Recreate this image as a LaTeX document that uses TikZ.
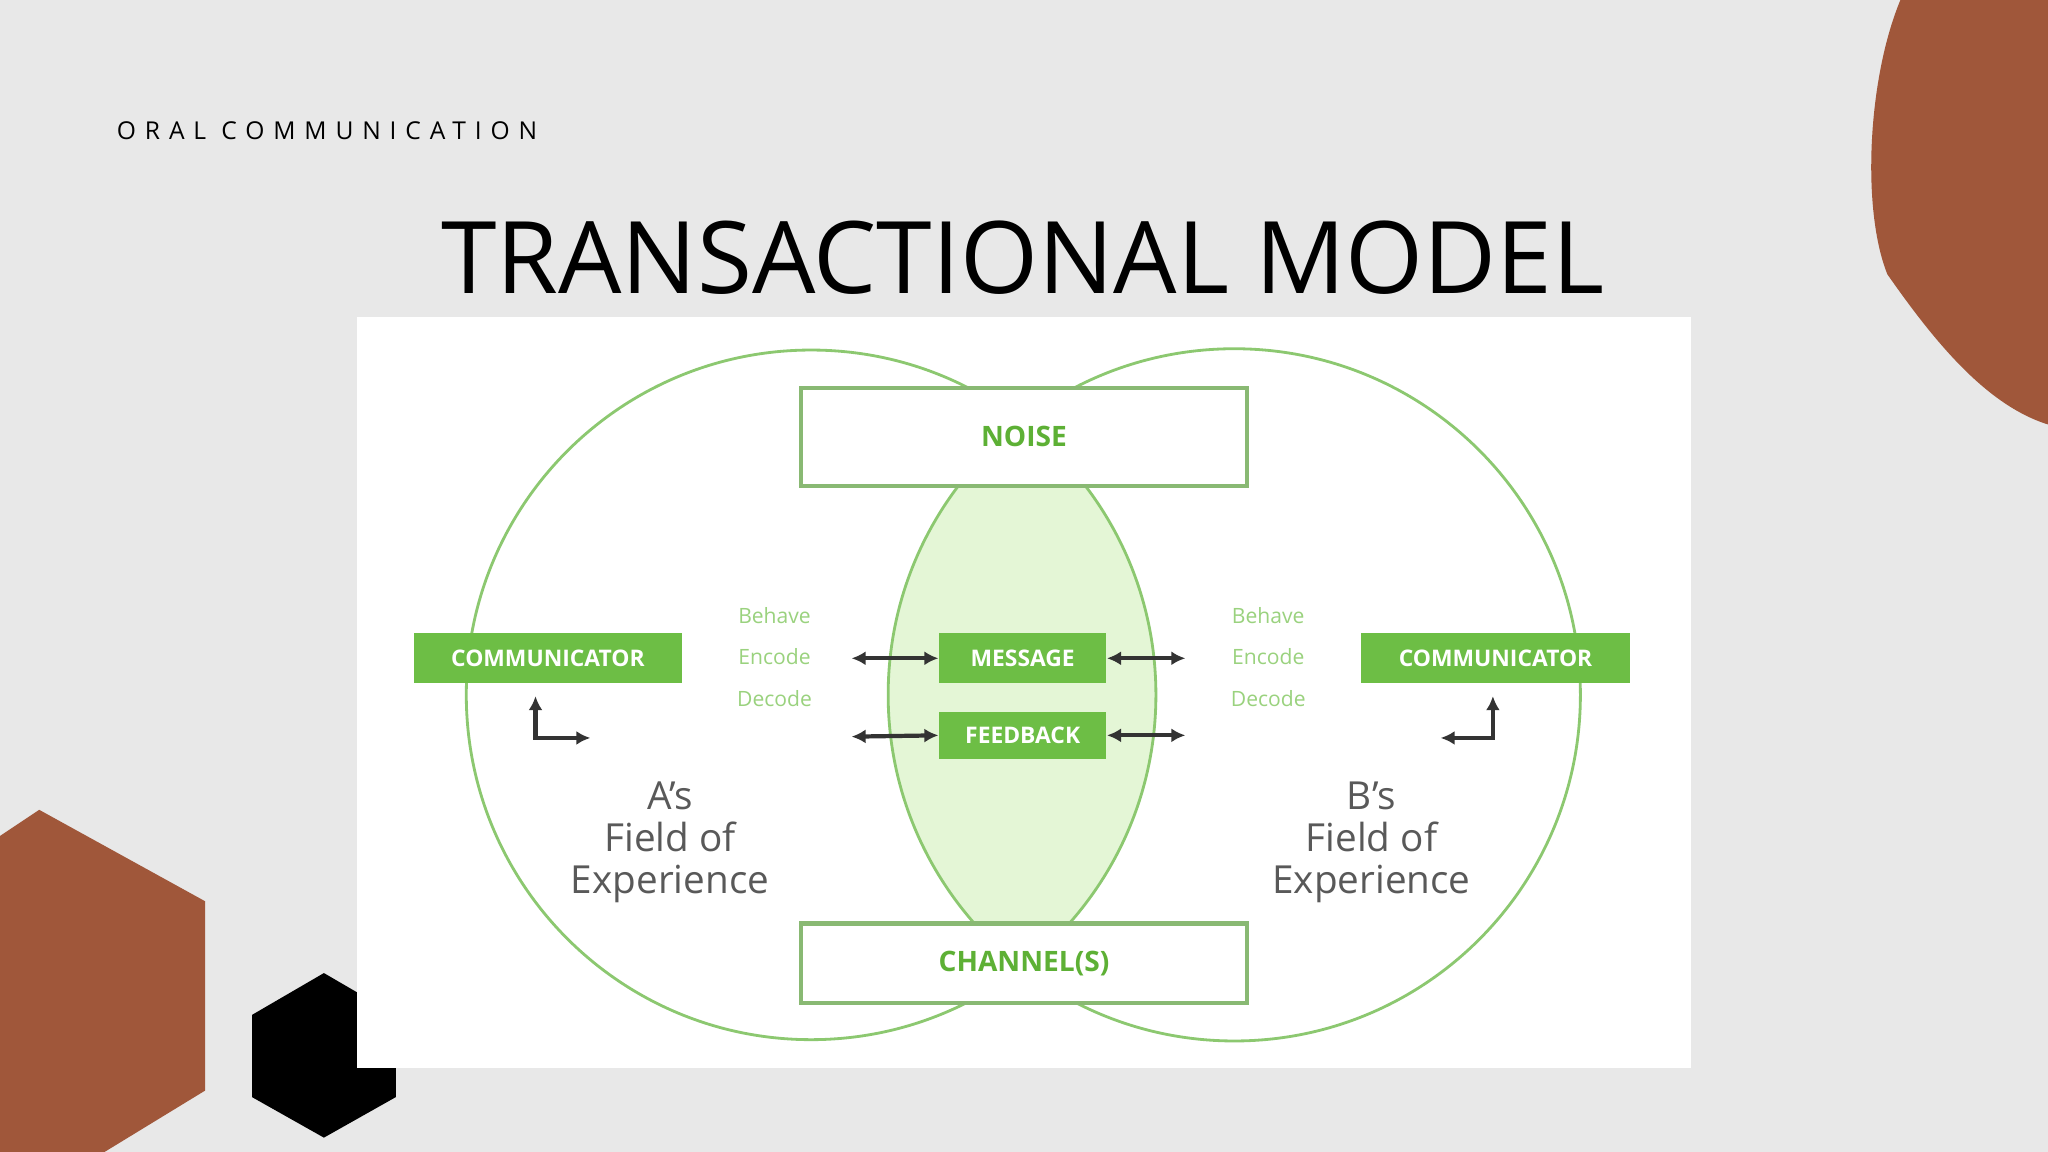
\documentclass[tikz,border=0pt]{standalone}
\usepackage{fontspec}
\setmainfont{Open Sans}
\usetikzlibrary{arrows.meta}
\definecolor{bg}{HTML}{E8E8E8}
\definecolor{rust}{HTML}{A0573A}
\definecolor{gline}{HTML}{8CC870}
\definecolor{gfill}{HTML}{E4F6D6}
\definecolor{gbox}{HTML}{6DBE45}
\definecolor{gtxt}{HTML}{5DB035}
\definecolor{ltxt}{HTML}{9AD27E}
\definecolor{dgray}{HTML}{333333}
\tikzset{
 outbox/.style={draw=gline!80!gray,line width=1.2pt,fill=white,text=gtxt,font=\bfseries\fontsize{8}{9}\selectfont},
 grbox/.style={fill=gbox,text=white,font=\fontsize{6.5}{7}\selectfont\bfseries},
 small/.style={text=ltxt,font=\fontsize{6}{7}\selectfont},
 darr/.style={dgray,line width=1.2pt,{Latex[length=4pt,width=4pt]}-{Latex[length=4pt,width=4pt]}},
 field/.style={text=black!65,font=\fontsize{11}{12}\selectfont,align=center}
}
\begin{document}
\begin{tikzpicture}[x=0.013061cm,y=-0.013061cm]
\fill[bg] (0,0) rectangle (1568,882);
\useasboundingbox (0,0) rectangle (1568,882);
% decorations
\fill[rust] (1455,0) .. controls (1430,60) and (1425,160) .. (1445,210) .. controls (1480,260) and (1520,310) .. (1568,325) -- (1568,0) -- cycle;
\fill[rust] (0,640) -- (30,620) -- (157,690) -- (157,835) -- (80,882) -- (0,882) -- cycle;
\fill[black] (248,745) -- (303,777) -- (303,840) -- (248,871) -- (193,840) -- (193,777) -- cycle;
\node[anchor=west,inner sep=0pt,font=\fontsize{7}{8}\selectfont] (sub) at (89,100) {\addfontfeature{LetterSpace=36}ORAL COMMUNICATION};
\node[font=\fontsize{28.5}{30}\selectfont] (title) at (783,197) {TRANSACTIONAL MODEL};
% panel
\fill[white] (273,243) rectangle (1295,818);
\begin{scope}
\clip (621,532) circle (264);
\fill[gfill] (945,532) circle (265);
\end{scope}
\draw[gline,line width=0.8pt] (621,532) circle (264);
\draw[gline,line width=0.8pt] (945,532) circle (265);
\node[outbox,minimum width=342*0.013061cm,minimum height=75*0.013061cm] (noise) at (784,334.5) {NOISE};
\node[outbox,minimum width=342*0.013061cm,minimum height=61*0.013061cm] (chan) at (784,737.5) {CHANNEL(S)};
\node[grbox,minimum width=205*0.013061cm,minimum height=38*0.013061cm] (ca) at (419.5,504) {COMMUNICATOR};
\node[grbox,minimum width=206*0.013061cm,minimum height=38*0.013061cm] (cb) at (1145,504) {COMMUNICATOR};
\node[grbox,minimum width=128*0.013061cm,minimum height=38*0.013061cm] (msg) at (783,504) {MESSAGE};
\node[grbox,minimum width=128*0.013061cm,minimum height=36*0.013061cm] (fb) at (783,563) {FEEDBACK};
\foreach \x/\s in {593/l,971/r}{
 \node[small] (be\s) at (\x,471) {Behave};
 \node[small] (en\s) at (\x,503) {Encode};
 \node[small] (de\s) at (\x,535) {Decode};
}
\coordinate (m1) at (652,504); \coordinate (m2) at (855,504);
\coordinate (f1) at (652,564); \coordinate (f2) at (855,564);
\draw[darr] (m1) -- (msg.west);
\draw[darr] (msg.east) -- ++(60*0.013061cm,0);
\draw[darr] (f1) -- (fb.west);
\draw[darr] (fb.east) -- ++(60*0.013061cm,0);
\coordinate (la) at (410,533); \coordinate (lb) at (452,565);
\coordinate (ra) at (1143,533); \coordinate (rb) at (1103,565);
\draw[darr] (la) |- (lb);
\draw[darr] (ra) |- (rb);
\node[field] (fa) at (513,645) {A's\\Field of\\Experience};
\node[field] (fbx) at (1050,645) {B's\\Field of\\Experience};
\end{tikzpicture}
\end{document}
